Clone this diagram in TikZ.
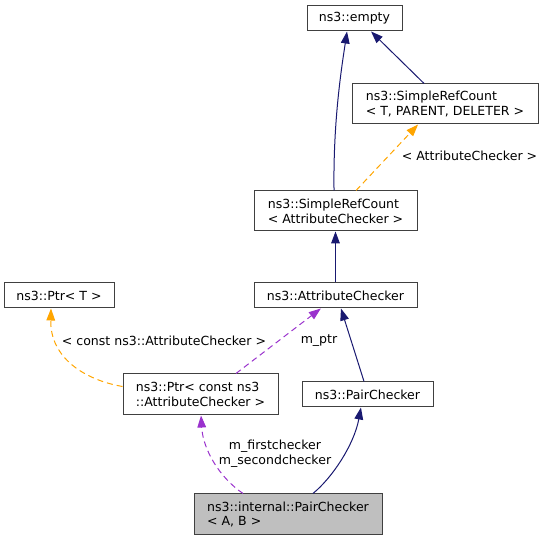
\documentclass[tikz,border=0pt]{standalone}
\usepackage{fontspec}
\setmainfont{DejaVu Sans}
\usetikzlibrary{arrows.meta}
\definecolor{inhblue}{HTML}{191970}
\definecolor{tmplorange}{HTML}{FFA500}
\definecolor{usepurple}{HTML}{9A32CD}
\begin{document}
\begin{tikzpicture}[x=0.75pt,y=-0.75pt,
    font=\fontsize{9.4}{11}\selectfont,
    cls/.style={draw=black!75,line width=0.75pt,fill=white,align=left,inner sep=0pt,minimum height=18.75pt},
    inh/.style={draw=inhblue,line width=0.75pt,-{Triangle[length=9pt,width=6.5pt,fill=inhblue]}},
    tmpl/.style={draw=tmplorange,line width=0.75pt,dash pattern=on 4.5pt off 3pt,-{Triangle[length=9pt,width=6.5pt,fill=tmplorange]}},
    usr/.style={draw=usepurple,line width=0.75pt,dash pattern=on 4.5pt off 3pt,-{Triangle[length=9pt,width=6.5pt,fill=usepurple]}},
    lbl/.style={align=center,inner sep=0pt}]
	\useasboundingbox (0,0) rectangle (547,541);

	% classes
	\node[cls,minimum width=71.25pt] (empty) at (354.5,18.5) {ns3::empty};
	\node[cls,minimum width=139.5pt,minimum height=30pt] (srcT) at (445,104) {ns3::SimpleRefCount\\< T, PARENT, DELETER >};
	\node[cls,minimum width=122.25pt,minimum height=30pt] (srcAC) at (335.5,211) {ns3::SimpleRefCount\\< AttributeChecker >};
	\node[cls,minimum width=122.25pt] (ac) at (335.5,295.5) {ns3::AttributeChecker};
	\node[cls,minimum width=82.5pt] (ptrT) at (59,295.5) {ns3::Ptr< T >};
	\node[cls,minimum width=116.25pt,minimum height=30.75pt] (ptrAC) at (200.5,394.5) {ns3::Ptr< const ns3\\::AttributeChecker >};
	\node[cls,minimum width=98.25pt] (pair) at (367.5,394.5) {ns3::PairChecker};
	\node[cls,fill=black!25,minimum width=141pt,minimum height=30.75pt] (internal) at (288,514.5) {ns3::internal::PairChecker\\< A, B >};

	% inheritance
	\draw[inh] ([xshift=-1.1pt]srcAC.north) .. controls (333,120) and (342,65) .. ([xshift=-5.6pt]empty.south);
	\draw[inh] ([xshift=-15.7pt]srcT.north) -- ([xshift=12.4pt]empty.south);
	\draw[inh] (ac.north) -- (srcAC.south);
	\draw[inh] ([xshift=-2.6pt]pair.north) -- ([xshift=4.1pt]ac.south);
	\draw[inh] ([xshift=18.7pt]internal.north) .. controls (332,478) and (354,445) .. ([xshift=-4.9pt]pair.south);

	% templates
	\draw[tmpl] ([xshift=15.4pt]srcAC.north) -- ([xshift=-20.2pt]srcT.south);
	\node[lbl] (lblsrc) at (469.5,156) {< AttributeChecker >};
	\draw[tmpl] ([yshift=6pt]ptrAC.west) .. controls (85,380) and (50,358) .. ([xshift=-6pt]ptrT.south);
	\node[lbl] (lblptr) at (164,341) {< const ns3::AttributeChecker >};

	% members
	\draw[usr] ([xshift=26.6pt]ptrAC.north) -- ([xshift=-11pt]ac.south);
	\node[lbl] (lblmptr) at (319,341) {m\_ptr};
	\draw[usr] ([xshift=-33.7pt]internal.north) .. controls (220,478) and (203,450) .. ([xshift=0.4pt]ptrAC.south);
	\node[lbl] (lblchk) at (275,454) {m\_firstchecker\\m\_secondchecker};

\end{tikzpicture}
\end{document}
